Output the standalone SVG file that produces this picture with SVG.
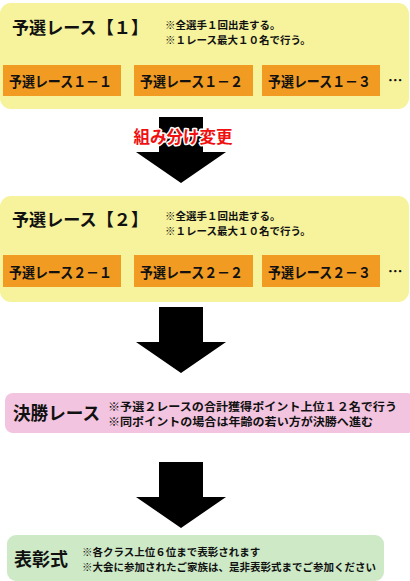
<svg xmlns="http://www.w3.org/2000/svg" width="410" height="581" viewBox="0 0 410 581">
<style>
text{font-family:"Noto Sans CJK JP","Noto Sans",sans-serif;font-weight:bold;fill:#111}
.yel{fill:#F6F39C}
.org{fill:#F29B22}
.title{font-size:17.5px}
.note{font-size:10.5px}
.pnote{font-size:11.5px}
.race{font-size:14.5px}
.big{font-size:18px}
.arrow{fill:#000}
.red{fill:#F01010;stroke:#fff;stroke-width:3;paint-order:stroke;stroke-linejoin:round;font-size:16.5px}
</style>
<rect width="410" height="581" fill="#fff"/>
<g id="yosen1">
<rect class="yel" x="0" y="3" width="409" height="106" rx="11"/>
<text class="title" x="12" y="34" textLength="136" lengthAdjust="spacingAndGlyphs">予選レース【１】</text>
<text class="note" x="165" y="29">※全選手１回出走する。</text>
<text class="note" x="165" y="44">※１レース最大１０名で行う。</text>
<rect class="org" x="3" y="65" width="118" height="31"/>
<text class="race" x="9" y="87" textLength="103" lengthAdjust="spacingAndGlyphs">予選レース１－１</text>
<rect class="org" x="134" y="65" width="119" height="31"/>
<text class="race" x="140" y="87" textLength="103" lengthAdjust="spacingAndGlyphs">予選レース１－２</text>
<rect class="org" x="262" y="65" width="118" height="31"/>
<text class="race" x="268" y="87" textLength="103" lengthAdjust="spacingAndGlyphs">予選レース１－３</text>
<text class="race" x="388" y="86">…</text>
</g>
<g id="yosen2">
<rect class="yel" x="0" y="196" width="409" height="106" rx="11"/>
<text class="title" x="12" y="226" textLength="136" lengthAdjust="spacingAndGlyphs">予選レース【２】</text>
<text class="note" x="165" y="220">※全選手１回出走する。</text>
<text class="note" x="165" y="235">※１レース最大１０名で行う。</text>
<rect class="org" x="3" y="255" width="118" height="32"/>
<text class="race" x="9" y="278" textLength="103" lengthAdjust="spacingAndGlyphs">予選レース２－１</text>
<rect class="org" x="134" y="255" width="119" height="32"/>
<text class="race" x="140" y="278" textLength="103" lengthAdjust="spacingAndGlyphs">予選レース２－２</text>
<rect class="org" x="262" y="255" width="118" height="32"/>
<text class="race" x="268" y="278" textLength="103" lengthAdjust="spacingAndGlyphs">予選レース２－３</text>
<text class="race" x="388" y="277">…</text>
</g>
<g id="kessho">
<rect x="5" y="393" width="410" height="40" rx="8" fill="#F3C4DF"/>
<text class="big" x="13" y="420" textLength="87" lengthAdjust="spacingAndGlyphs">決勝レース</text>
<text class="pnote" x="108" y="411" textLength="289" lengthAdjust="spacingAndGlyphs">※予選２レースの合計獲得ポイント上位１２名で行う</text>
<text class="pnote" x="108" y="426" textLength="265" lengthAdjust="spacingAndGlyphs">※同ポイントの場合は年齢の若い方が決勝へ進む</text>
</g>
<g id="hyosho">
<rect x="7" y="535" width="377" height="46" rx="9" fill="#CDE9C6"/>
<text class="big" x="14" y="566">表彰式</text>
<text class="note" x="82" y="556">※各クラス上位６位まで表彰されます</text>
<text class="note" x="82" y="571">※大会に参加されたご家族は、是非表彰式までご参加ください</text>
</g>
<g id="connectors">
<polygon class="arrow" points="159,117 203,117 203,152 226,152 181,183 136,152 159,152"/>
<text class="red" x="183" y="143" text-anchor="middle">組み分け変更</text>
<polygon class="arrow" points="159,307 203,307 203,342 226,342 181,373 136,342 159,342"/>
<polygon class="arrow" points="159,462 203,462 203,497 226,497 181,528 136,497 159,497"/>
</g>
</svg>
